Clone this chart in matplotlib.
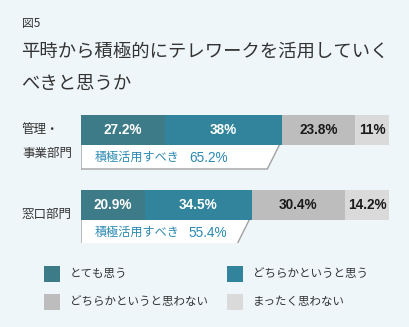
import matplotlib.pyplot as plt
from matplotlib.patches import Polygon, Rectangle

plt.rcParams['font.family'] = ['Noto Sans CJK JP', 'DejaVu Sans']

# data
groups = ["管理・\n事業部門", "窓口部門"]
series = ["とても思う", "どちらかというと思う", "どちらかというと思わない", "まったく思わない"]
values = [
    [27.2, 38.0, 23.8, 11.0],
    [20.9, 34.5, 30.4, 14.2],
]
value_labels = [
    ["27.2%", "38%", "23.8%", "11%"],
    ["20.9%", "34.5%", "30.4%", "14.2%"],
]
callout_labels = ["65.2%", "55.4%"]
colors = ["#3d7b88", "#31849b", "#bdbdbd", "#dadada"]
text_colors = ["white", "white", "#1a1a1a", "#1a1a1a"]

W, H = 410, 327
bg = "#eff6f9"


def fx(x):
    return x / W


def fy(y):
    return 1 - y / H


fig = plt.figure(figsize=(W / 100, H / 100), dpi=100, facecolor=bg)

# titles
fig.text(fx(22), fy(23), "図5", fontsize=8.5, color="#333333", va="center", ha="left")
fig.text(fx(21), fy(52), "平時から積極的にテレワークを活用していく", fontsize=13.2,
         color="#333333", va="center", ha="left")
fig.text(fx(21), fy(84), "べきと思うか", fontsize=13.2, color="#333333",
         va="center", ha="left")

# bar axes: x 0..100 maps to 81..389 px, bar centres at 130 and 205 px
ax = fig.add_axes([fx(81), fy(242.5), fx(389 - 81), (242.5 - 92.5) / H])
ax.set_xlim(0, 100)
ax.set_ylim(1.5, -0.5)
ax.axis("off")

bar_h = 0.4
box_h = 24 / 75
slant = 3.9

for i, row in enumerate(values):
    left = 0
    for j, v in enumerate(row):
        ax.barh(i, v, left=left, height=bar_h, color=colors[j], zorder=3)
        ax.text(left + v / 2, i, value_labels[i][j], ha="center", va="center",
                color=text_colors[j], fontsize=9.8, fontweight="bold",
                family=["Liberation Sans", "DejaVu Sans"], zorder=4)
        left += v

    # callout box under the bar for the two "agree" segments
    agree = row[0] + row[1]
    top = i + bar_h / 2
    bot = top + box_h
    ax.add_patch(Polygon([(0, top), (agree - 0.8, top), (agree - 0.8 - slant, bot), (0, bot)],
                         closed=True, facecolor="white", edgecolor="none", zorder=2))
    ax.plot([0, 0, agree - 0.8 - slant, agree - 0.8], [top, bot, bot, top],
            color="#a0a0a0", lw=1, zorder=2.5, solid_joinstyle="miter")
    ax.text(4.5, (top + bot) / 2 + 0.01, "積極活用すべき", ha="left", va="center",
            color="#2a88b0", fontsize=8.7, zorder=4)
    ax.text(35, (top + bot) / 2 + 0.01, callout_labels[i], ha="left", va="center",
            color="#2a88b0", fontsize=9.8, family=["Liberation Sans", "DejaVu Sans"], zorder=4)

# group labels
fig.text(fx(22), fy(130), "管理・", fontsize=9, color="#333333", va="center", ha="left")
fig.text(fx(22), fy(153), "事業部門", fontsize=9, color="#333333", va="center", ha="left")
fig.text(fx(22), fy(214), "窓口部門", fontsize=9, color="#333333", va="center", ha="left")

# legend
legend_pos = [(44, 274), (227, 274), (44, 302), (227, 302)]
for (lx, ly), name, c in zip(legend_pos, series, colors):
    fig.add_artist(Rectangle((fx(lx), fy(ly + 8)), 16 / W, 16 / H,
                             transform=fig.transFigure, facecolor=c, edgecolor="none"))
    fig.text(fx(lx + 26), fy(ly), name, fontsize=8.3, color="#333333",
             va="center", ha="left")

fig.savefig("out.png", dpi=100, facecolor=bg)
